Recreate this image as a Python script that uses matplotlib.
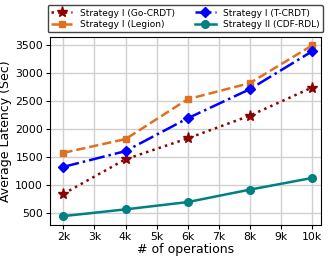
import matplotlib
matplotlib.use("Agg")
import matplotlib.pyplot as plt
from matplotlib.ticker import MultipleLocator

ops = [2, 4, 6, 8, 10]
go_crdt = [838, 1459, 1833, 2241, 2745]
legion = [1574, 1821, 2536, 2825, 3500]
t_crdt = [1322, 1605, 2194, 2716, 3394]
cdf_rdl = [439, 560, 691, 914, 1123]
xticks = [2, 3, 4, 5, 6, 7, 8, 9, 10]
xticklabels = ["2k", "3k", "4k", "5k", "6k", "7k", "8k", "9k", "10k"]

fig, ax = plt.subplots(figsize=(3.29, 2.6), dpi=100)
ax.plot(ops, go_crdt, color="#8B0000", linestyle=":", linewidth=1.8, marker="*", markersize=8,
        label="Strategy I (Go-CRDT)")
ax.plot(ops, legion, color="#E07020", linestyle="--", linewidth=1.8, marker="s", markersize=5,
        label="Strategy I (Legion)")
ax.plot(ops, t_crdt, color="blue", linestyle="-.", linewidth=1.8, marker="D", markersize=5,
        label="Strategy I (T-CRDT)")
ax.plot(ops, cdf_rdl, color="#008080", linestyle="-", linewidth=1.8, marker="o", markersize=5.5,
        label="Strategy II (CDF-RDL)")

ax.set_xticks(xticks)
ax.set_xticklabels(xticklabels)
ax.set_xlim(1.57, 10.28)
ax.yaxis.set_major_locator(MultipleLocator(500))
ax.tick_params(labelsize=7.8, length=3, pad=2)
ax.grid(True, color="#d0d0d0", linewidth=1)
ax.set_axisbelow(True)
ax.set_xlabel("# of operations", fontsize=9, labelpad=1)
ax.set_ylabel("Average Latency (Sec)", fontsize=9, labelpad=2)
ax.legend(loc="lower center", bbox_to_anchor=(0.5, 1.0), ncol=2, fontsize=6.5,
          handlelength=2.4, columnspacing=2.2, borderpad=0.35, labelspacing=0.3,
          framealpha=1, edgecolor="#444444")
fig.subplots_adjust(left=0.152, right=0.975, top=0.858, bottom=0.136)
fig.savefig("out.png", dpi=100)
